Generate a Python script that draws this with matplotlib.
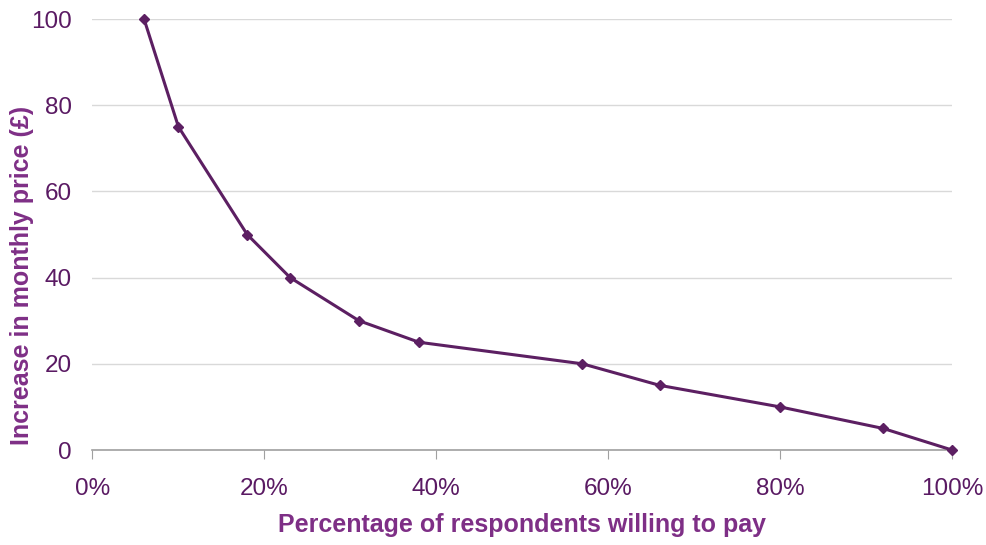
import matplotlib
matplotlib.use("Agg")
import matplotlib.pyplot as plt
from matplotlib.ticker import FuncFormatter

# share of respondents willing to pay (%) vs price increase (GBP)
willing_pct = [6, 10, 18, 23, 31, 38, 57, 66, 80, 92, 100]
price_increase = [100, 75, 50, 40, 30, 25, 20, 15, 10, 5, 0]

x_ticks = [0, 20, 40, 60, 80, 100]
y_ticks = [0, 20, 40, 60, 80, 100]

plt.rcParams['font.family'] = ['Liberation Sans', 'DejaVu Sans']

line_col = "#5C1F62"
tick_col = "#5A1A63"
label_col = "#7E2F86"

fig = plt.figure(figsize=(9.87, 5.45), dpi=100)
ax = fig.add_axes([0.0937, 0.1743, 0.8708, 0.7908])

ax.plot(willing_pct, price_increase, color=line_col, lw=2.2,
        marker='D', ms=5.5, mfc=line_col, mec=line_col, clip_on=False, zorder=3)

ax.set_xlim(0, 100)
ax.set_ylim(0, 100)
ax.set_xticks(x_ticks)
ax.set_yticks(y_ticks)
ax.xaxis.set_major_formatter(FuncFormatter(lambda v, p: f"{v:.0f}%"))

ax.grid(axis='y', color='#D9D9D9', lw=1)
ax.set_axisbelow(True)
for s in ['top', 'right', 'left']:
    ax.spines[s].set_visible(False)
ax.spines['bottom'].set_color('#A0A0A0')
ax.spines['bottom'].set_linewidth(1.2)

ax.tick_params(axis='x', length=6.5, color='#A0A0A0', pad=14, labelsize=17.5, labelcolor=tick_col)
ax.tick_params(axis='y', length=0, pad=15, labelsize=17.5, labelcolor=tick_col)

ax.set_xlabel("Percentage of respondents willing to pay", fontsize=18,
              fontweight='bold', color=label_col, labelpad=9)
ax.set_ylabel("Increase in monthly price (£)", fontsize=18,
              fontweight='bold', color=label_col)
# excel puts the y title a bit lower than the plot centre
ax.yaxis.set_label_coords(-0.068, 0.405)

fig.savefig("out.png", dpi=100)
